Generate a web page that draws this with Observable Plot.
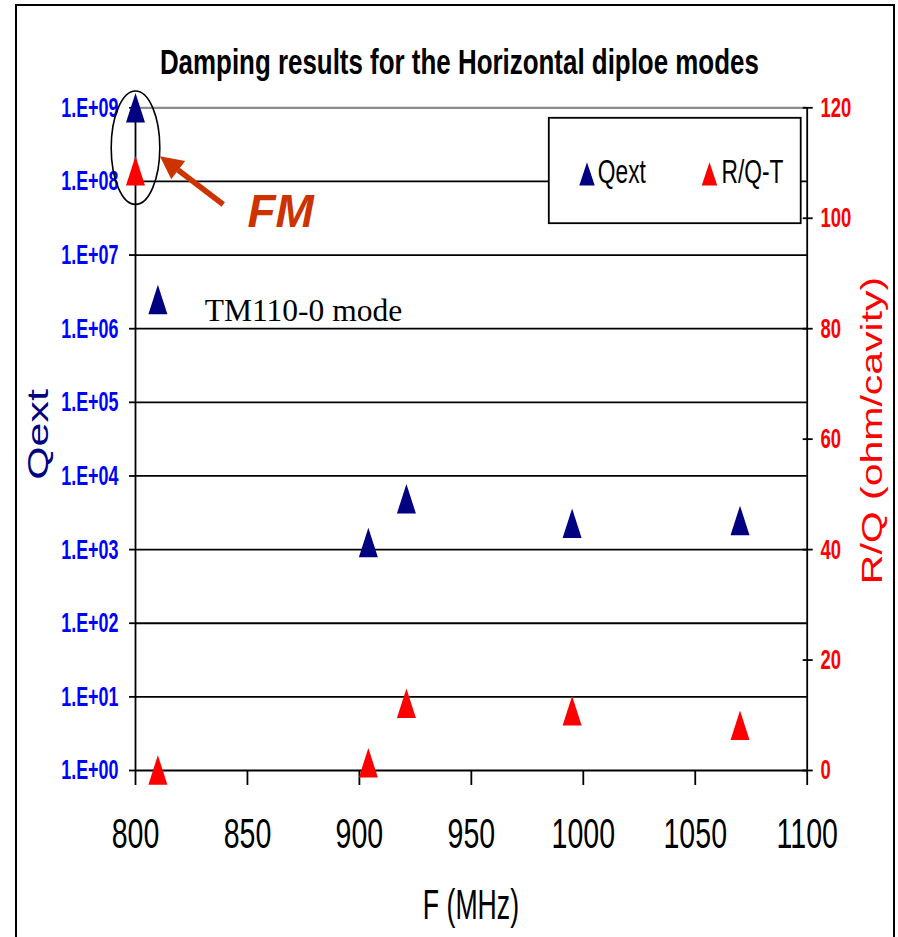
<!DOCTYPE html>
<html><head><meta charset="utf-8">
<script src="https://cdn.jsdelivr.net/npm/d3@7"></script>
<script src="https://cdn.jsdelivr.net/npm/@observablehq/plot@0.6"></script>
<style>
html,body{margin:0;padding:0;background:#fff;overflow:hidden}
#wrap{position:relative;width:898px;height:937px;overflow:hidden;background:#fff}
#border{position:absolute;left:15px;top:4px;width:880px;height:1000px;border:2px solid #000;box-sizing:border-box}
#chart{position:absolute;left:0;top:0}
</style></head><body>
<div id="wrap"><div id="border"></div><div id="chart"></div></div>
<script>
// ---- data ----
const freqQext = [800, 810, 904, 921, 995, 1070];
const qextValues = [1e9, 2.5e6, 1250, 4900, 2280, 2490];
const freqRQ = [800, 810, 904, 921, 995, 1070];
const rqValues = [108.6, 0.1, 1.4, 12.2, 10.8, 8.2];
const xTicks = [800, 850, 900, 950, 1000, 1050, 1100];
const qTicks = [1e0, 1e1, 1e2, 1e3, 1e4, 1e5, 1e6, 1e7, 1e8, 1e9];
const qTickLabels = ["1.E+00","1.E+01","1.E+02","1.E+03","1.E+04","1.E+05","1.E+06","1.E+07","1.E+08","1.E+09"];
const rqTicks = [0, 20, 40, 60, 80, 100, 120];
const legendNames = ["Qext", "R/Q-T"];
const titleText = "Damping results for the Horizontal diploe modes";
const xLabel = "F (MHz)";
const yLeftLabel = "Qext";
const yRightLabel = "R/Q (ohm/cavity)";
// annotations (data coordinates)
const fmEllipse = [{F: 800, Q: 2.87e8}];
const fmArrow = [{F1: 839.2, Q1: 4.87e7, F2: 819.0, Q2: 1.43e8, Ftip: 810.9, Qtip: 2.2e8}];
const fmText = [{F: 850, Q: 2.39e7, label: "FM"}];
const tmText = [{F: 830.9, Q: 1.29e6, label: "TM110-0 mode"}];

// ---- helpers ----
const rqMax = 120, decades = 9;
const rqToY = v => Math.pow(10, v * decades / rqMax);
const rqTicksY = rqTicks.map(rqToY);
const qData = freqQext.map((F, i) => ({F, Q: qextValues[i]}));
const rqData = freqRQ.map((F, i) => ({F, RQ: rqValues[i]}));

const triangle = (w, h) => ({draw(ctx) {
  ctx.moveTo(0, -h / 2); ctx.lineTo(w / 2, h / 2); ctx.lineTo(-w / 2, h / 2); ctx.closePath();
}});
const ellipse = (rx, ry) => ({draw(ctx) {
  const k = 0.5523;
  ctx.moveTo(rx, 0);
  ctx.bezierCurveTo(rx, ry * k, rx * k, ry, 0, ry);
  ctx.bezierCurveTo(-rx * k, ry, -rx, ry * k, -rx, 0);
  ctx.bezierCurveTo(-rx, -ry * k, -rx * k, -ry, 0, -ry);
  ctx.bezierCurveTo(rx * k, -ry, rx, -ry * k, rx, 0);
  ctx.closePath();
}});
const arrowHead = (w, l) => ({draw(ctx) {
  ctx.moveTo(0, 0); ctx.lineTo(w / 2, l); ctx.lineTo(-w / 2, l); ctx.closePath();
}});

const NAVY = "#000080", RED = "#FF0000", BLUE = "#0000FF", ORANGE = "#CC3300";
const sans = "'Liberation Sans', Arial, Helvetica, sans-serif";

const plot = Plot.plot({
  width: 898, height: 937,
  marginLeft: 135, marginRight: 91.3, marginTop: 107.3, marginBottom: 167,
  x: {domain: [800, 1100]},
  y: {type: "log", domain: [1, 1e9]},
  style: {fontFamily: sans, background: "transparent", overflow: "visible", color: "#000"},
  marks: [
    Plot.ruleY(qTicks.slice(0, 9), {stroke: "#000", strokeWidth: 1.8}),
    Plot.ruleY(qTicks.slice(9), {stroke: "#8c8c8c", strokeWidth: 2.2}),
    Plot.ruleX([800, 1100], {stroke: "#000", strokeWidth: 1.8}),
    Plot.axisY({anchor: "left", ticks: qTicks, tickSize: 6, tickPadding: 11,
      tickFormat: d => qTickLabels[qTicks.indexOf(d)], fontSize: 28, fontWeight: "bold",
      fill: BLUE, stroke: "#000", strokeWidth: 1.8, label: null}),
    // right (R/Q) axis: ticks crossing the axis line, then labels
    Plot.axisY({anchor: "right", ticks: rqTicksY, tickSize: 10, dx: -5, tickFormat: () => "",
      stroke: "#000", strokeWidth: 1.8, label: null}),
    Plot.text(rqTicks, {y: d => rqToY(d), text: d => String(d), frameAnchor: "right", dx: 13.3,
      textAnchor: "start", lineAnchor: "middle", fontSize: 28, fontWeight: "bold", fill: RED}),
    Plot.axisX({anchor: "bottom", ticks: xTicks, tickSize: 15, tickPadding: 33,
      tickFormat: d => String(d), fontSize: 42, fill: "#000", stroke: "#000", strokeWidth: 1.8, label: null}),
    // legend box
    Plot.frame({fill: "#fff", stroke: "#000", strokeWidth: 1.8,
      insetLeft: 413.3, insetRight: 6.5, insetTop: 10, insetBottom: 547.3}),
    ...legendNames.map((name, i) => Plot.dot([name], {frameAnchor: "top-left", dx: 451.5 + i * 122.5, dy: 66,
      symbol: triangle(15.5, 23.3), fill: i === 0 ? NAVY : RED, stroke: "none"})),
    ...legendNames.map((name, i) => Plot.text([name], {text: d => d, frameAnchor: "top-left",
      dx: 462.3 + i * 123.7, dy: 75.4, textAnchor: "start", lineAnchor: "bottom", fontSize: 32.5, fill: "#000"})),
    // data
    Plot.dot(qData, {x: "F", y: "Q", symbol: triangle(19, 29.5), fill: NAVY, stroke: "none"}),
    Plot.dot(rqData, {x: "F", y: d => rqToY(d.RQ), symbol: triangle(19, 29.5), fill: RED, stroke: "none"}),
    // annotations
    Plot.dot(fmEllipse, {x: "F", y: "Q", symbol: ellipse(24.3, 56.7), fill: "none", stroke: "#000", strokeWidth: 1.6}),
    Plot.link(fmArrow, {x1: "F1", y1: "Q1", x2: "F2", y2: "Q2", stroke: ORANGE, strokeWidth: 5.5}),
    Plot.dot(fmArrow, {x: "Ftip", y: "Qtip", symbol: arrowHead(23, 23), rotate: -52.7, fill: ORANGE, stroke: "none"}),
    Plot.text(fmText, {x: "F", y: "Q", text: "label", textAnchor: "start", lineAnchor: "bottom",
      fontSize: 46, fontWeight: "bold", fontStyle: "italic", fill: ORANGE}),
    Plot.text(tmText, {x: "F", y: "Q", text: "label", textAnchor: "start", lineAnchor: "bottom",
      fontFamily: "'Liberation Serif', 'Times New Roman', serif", fontSize: 31.5, fill: "#000"}),
    // titles and axis labels
    Plot.text([titleText], {text: d => d, frameAnchor: "top", dx: -12, dy: -34.3, lineAnchor: "bottom",
      fontSize: 36, fontWeight: "bold", fill: "#000"}),
    Plot.text([xLabel], {text: d => d, frameAnchor: "bottom", dx: -0.4, dy: 148, lineAnchor: "bottom",
      fontSize: 43, fill: "#000"}),
    Plot.text([yLeftLabel], {text: d => d, frameAnchor: "left", dx: -96.7, dy: -4.7, rotate: -90,
      lineAnchor: "middle", textAnchor: "middle", fontSize: 43, fill: NAVY}),
    Plot.text([yRightLabel], {text: d => d, frameAnchor: "right", dx: 65, dy: -8.7, rotate: -90,
      lineAnchor: "middle", textAnchor: "middle", fontSize: 41, fill: RED})
  ]
});
document.getElementById("chart").appendChild(plot);

// ---- horizontal condensing of the narrow (Arial-Narrow-like) texts ----
const squeezeByText = new Map([
  [titleText, 0.72], [xLabel, 0.62], [yLeftLabel, 0.72], [yRightLabel, 0.74],
  [legendNames[0], 0.7], [legendNames[1], 0.7],
  ...rqTicks.map(t => [String(t), 0.66])
]);
function squeeze(el, s) {
  const tr = el.getAttribute("transform") || "";
  if (/translate\([^)]*\)/.test(tr)) {
    el.setAttribute("transform", tr.replace(/(translate\([^)]*\))/, `$1 scale(${s},1)`));
  } else {
    const x = +el.getAttribute("x") || 0;
    el.setAttribute("transform", `translate(${x},0) scale(${s},1) translate(${-x},0) ${tr}`);
  }
}
plot.querySelectorAll("text").forEach(el => {
  const g = el.parentNode;
  const label = g.getAttribute("aria-label") || "";
  const c = el.textContent;
  let s = null;
  if (label === "y-axis tick label") s = 0.64;
  else if (label === "x-axis tick label") s = 0.68;
  else if (squeezeByText.has(c)) s = squeezeByText.get(c);
  if (s) squeeze(el, s);
});
</script>
</body></html>
